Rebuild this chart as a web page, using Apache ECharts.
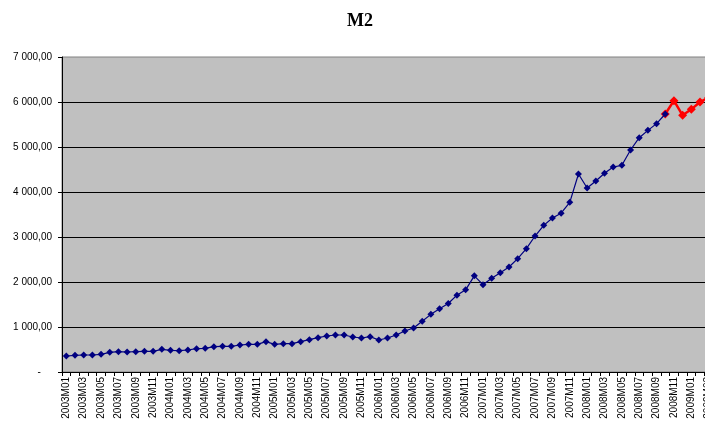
<!DOCTYPE html>
<html>
<head>
<meta charset="utf-8">
<script src="https://cdn.jsdelivr.net/npm/echarts@6/dist/echarts.min.js"></script>
<style>
html,body{margin:0;padding:0;background:#fff;}
#chart{width:705px;height:421px;}
</style>
</head>
<body>
<div id="chart"></div>
<script>
var categories = [
 '2003M01','2003M02','2003M03','2003M04','2003M05','2003M06','2003M07','2003M08','2003M09','2003M10','2003M11','2003M12',
 '2004M01','2004M02','2004M03','2004M04','2004M05','2004M06','2004M07','2004M08','2004M09','2004M10','2004M11','2004M12',
 '2005M01','2005M02','2005M03','2005M04','2005M05','2005M06','2005M07','2005M08','2005M09','2005M10','2005M11','2005M12',
 '2006M01','2006M02','2006M03','2006M04','2006M05','2006M06','2006M07','2006M08','2006M09','2006M10','2006M11','2006M12',
 '2007M01','2007M02','2007M03','2007M04','2007M05','2007M06','2007M07','2007M08','2007M09','2007M10','2007M11','2007M12',
 '2008M01','2008M02','2008M03','2008M04','2008M05','2008M06','2008M07','2008M08','2008M09','2008M10','2008M11','2008M12',
 '2009M01','2009M02','2009M03'
];
// 2003M01 .. 2008M10 (blue)
var m2History = [
 355,370,378,378,393,437,452,444,452,459,459,504,
 481,474,489,519,526,563,570,570,600,615,615,674,
 615,630,630,674,719,763,800,822,822,778,756,785,
 711,756,822,911,978,1126,1281,1404,1522,1708,1826,2137,
 1941,2081,2207,2333,2519,2741,3022,3259,3422,3530,3770,4400,
 4089,4245,4418,4556,4593,4933,5207,5370,5519,5733
];
// 2008M10 .. 2009M03 (red)
var m2Recent = [5733,6030,5704,5837,6000,6100];
var recentStart = '2008M10';
var yTicks = ['-','1 000,00','2 000,00','3 000,00','4 000,00','5 000,00','6 000,00','7 000,00'];

var startIdx = categories.indexOf(recentStart);
var blueData = categories.map(function(c,i){ return i < m2History.length ? m2History[i] : null; });
var redData = categories.map(function(c,i){ return (i >= startIdx && i - startIdx < m2Recent.length) ? m2Recent[i - startIdx] : null; });

var chart = echarts.init(document.getElementById('chart'));
chart.setOption({
  animation: false,
  backgroundColor: '#ffffff',
  title: {
    text: 'M2',
    left: 342,
    top: 7,
    textStyle: {fontFamily: 'Liberation Serif', fontWeight: 'bold', fontSize: 18, color: '#000'}
  },
  grid: {
    left: 62, top: 57, width: 651, height: 315,
    show: true, backgroundColor: '#c0c0c0', borderColor: '#808080', borderWidth: 1,
    containLabel: false, outerBoundsMode: 'none'
  },
  xAxis: {
    type: 'category',
    data: categories,
    boundaryGap: true,
    axisLine: {show: true, lineStyle: {color: '#000', width: 1}},
    axisTick: {show: true, interval: 0, length: 4, lineStyle: {color: '#000'}},
    axisLabel: {interval: 1, rotate: 90, fontSize: 10, fontFamily: 'Liberation Sans', color: '#000', margin: 5},
    splitLine: {show: false}
  },
  yAxis: {
    type: 'value',
    min: 0, max: 7000, interval: 1000,
    axisLine: {show: true, lineStyle: {color: '#000', width: 1}},
    axisTick: {show: true, length: 4, lineStyle: {color: '#000'}},
    axisLabel: {
      fontSize: 10, fontFamily: 'Liberation Sans', color: '#000', margin: 10,
      formatter: function(v){ var t = yTicks[Math.round(v/1000)]; return t === '-' ? '-    ' : t; }
    },
    splitLine: {show: true, showMaxLine: false, showMinLine: false, lineStyle: {color: '#000', width: 1}}
  },
  series: [
    {
      type: 'line', data: redData, z: 2,
      symbol: 'diamond', symbolSize: 9, showAllSymbol: true,
      lineStyle: {color: '#ff0000', width: 2.5},
      itemStyle: {color: '#ff0000'}
    },
    {
      type: 'line', data: blueData, z: 3,
      symbol: 'diamond', symbolSize: 7, showAllSymbol: true,
      lineStyle: {color: '#000080', width: 1.2},
      itemStyle: {color: '#000080'}
    }
  ]
});
</script>
</body>
</html>
